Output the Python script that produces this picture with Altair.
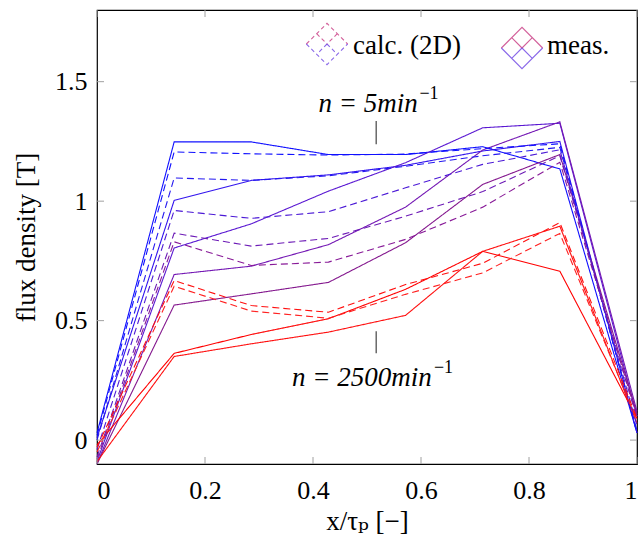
import altair as alt
import pandas as pd

# Positions across the pole pitch
x_pos = [0.0, 0.1429, 0.2857, 0.4286, 0.5714, 0.7143, 0.8571, 1.0]

# Measured flux density, one list per speed (5 ... 2500 min^-1)
meas_1 = [0.03, 1.248, 1.248, 1.195, 1.195, 1.228, 1.135, 0.03]
meas_2 = [0.01, 1.003, 1.087, 1.110, 1.150, 1.210, 1.250, 0.03]
meas_3 = [-0.09, 0.804, 0.905, 1.042, 1.161, 1.307, 1.326, 0.10]
meas_4 = [-0.10, 0.693, 0.728, 0.818, 0.975, 1.214, 1.332, 0.12]
meas_5 = [-0.10, 0.565, 0.612, 0.660, 0.826, 1.070, 1.195, 0.11]
meas_6 = [-0.02, 0.363, 0.442, 0.508, 0.631, 0.790, 0.707, 0.09]
meas_7 = [-0.09, 0.350, 0.403, 0.452, 0.522, 0.790, 0.895, 0.07]

# Calculated (2D) flux density, one list per speed
calc_1 = [0.02, 1.206, 1.198, 1.193, 1.197, 1.220, 1.240, 0.03]
calc_2 = [0.00, 1.097, 1.087, 1.106, 1.146, 1.190, 1.225, 0.04]
calc_3 = [-0.04, 0.961, 0.928, 0.956, 1.056, 1.154, 1.215, 0.06]
calc_4 = [-0.07, 0.866, 0.812, 0.844, 0.937, 1.040, 1.190, 0.09]
calc_5 = [-0.08, 0.830, 0.731, 0.745, 0.840, 0.975, 1.163, 0.10]
calc_6 = [-0.03, 0.668, 0.563, 0.535, 0.651, 0.740, 0.910, 0.09]
calc_7 = [-0.05, 0.644, 0.540, 0.510, 0.610, 0.700, 0.865, 0.08]

meas_colors = ["#1010ff", "#3214ee", "#5a18d2", "#7418b4", "#84188e", "#ff0000", "#ff1010"]
calc_colors = ["#1010ff", "#2418f0", "#4c1ad6", "#6c1ab6", "#881a98", "#ff1010", "#ff2020"]

x_ticks = [0, 0.2, 0.4, 0.6, 0.8, 1]
y_ticks = [0, 0.5, 1, 1.5]

series = [
    ("meas 1", "meas", meas_1), ("meas 2", "meas", meas_2), ("meas 3", "meas", meas_3),
    ("meas 4", "meas", meas_4), ("meas 5", "meas", meas_5), ("meas 6", "meas", meas_6),
    ("meas 7", "meas", meas_7),
    ("calc 1", "calc", calc_1), ("calc 2", "calc", calc_2), ("calc 3", "calc", calc_3),
    ("calc 4", "calc", calc_4), ("calc 5", "calc", calc_5), ("calc 6", "calc", calc_6),
    ("calc 7", "calc", calc_7),
]
names = [s[0] for s in series]
colors = meas_colors + calc_colors

rows = []
for name, kind, vals in series:
    for i, (xv, yv) in enumerate(zip(x_pos, vals)):
        rows.append({"series": name, "kind": kind, "x": xv, "y": yv, "idx": i})
df = pd.DataFrame(rows)

FONT = "Liberation Serif, Times New Roman, DejaVu Serif, serif"
W, H = 540, 454

x_scale = alt.Scale(domain=[0, 1], nice=False, zero=False)
y_scale = alt.Scale(domain=[-0.1, 1.8], nice=False, zero=False)

lines = alt.Chart(df).mark_line(strokeWidth=1.1).encode(
    x=alt.X("x:Q", scale=x_scale,
            axis=alt.Axis(values=x_ticks, format="~g", title="x/τₚ [−]",
                          labelPadding=13, titlePadding=5)),
    y=alt.Y("y:Q", scale=y_scale,
            axis=alt.Axis(values=y_ticks, format="~g", title="flux density [T]",
                          labelPadding=10, titlePadding=14)),
    color=alt.Color("series:N", scale=alt.Scale(domain=names, range=colors), legend=None),
    strokeDash=alt.StrokeDash("kind:N",
                              scale=alt.Scale(domain=["calc", "meas"], range=[[7, 4], [1, 0]]),
                              legend=None),
    detail="series:N",
    order="idx:Q",
)

# Inward tick marks on all four sides
xt = pd.DataFrame({"t": x_ticks})
yt = pd.DataFrame({"t": y_ticks})
tick_col = "#a0a0a0"
ticks_bottom = alt.Chart(xt).mark_rule(color=tick_col).encode(
    x=alt.X("t:Q", scale=x_scale), y=alt.value(H), y2=alt.value(H - 7))
ticks_top = alt.Chart(xt).mark_rule(color=tick_col).encode(
    x=alt.X("t:Q", scale=x_scale), y=alt.value(0), y2=alt.value(7))
ticks_left = alt.Chart(yt).mark_rule(color=tick_col).encode(
    y=alt.Y("t:Q", scale=y_scale), x=alt.value(0), x2=alt.value(7))
ticks_right = alt.Chart(yt).mark_rule(color=tick_col).encode(
    y=alt.Y("t:Q", scale=y_scale), x=alt.value(W), x2=alt.value(W - 7))

# Speed annotations: marker line, speed text and its "−1" exponent
ann_x = 0.517
ann_rules = pd.DataFrame({"x": [ann_x, ann_x], "y1": [1.238, 0.364], "y2": [1.335, 0.456]})
ann_text = pd.DataFrame({"x_end": [0.594, 0.620], "x_sup": [0.597, 0.624],
                         "y": [1.405, 0.262],
                         "label": ["n = 5min", "n = 2500min"], "sup": ["−1", "−1"]})
rules = alt.Chart(ann_rules).mark_rule(color="#444444", strokeWidth=1.2).encode(
    x=alt.X("x:Q", scale=x_scale), y=alt.Y("y1:Q", scale=y_scale), y2="y2:Q")
texts = alt.Chart(ann_text).mark_text(font=FONT, fontSize=27, fontStyle="italic",
                                      color="black", baseline="middle", align="right").encode(
    x=alt.X("x_end:Q", scale=x_scale), y=alt.Y("y:Q", scale=y_scale), text="label:N")
sups = alt.Chart(ann_text).mark_text(font=FONT, fontSize=18, color="black",
                                     baseline="middle", align="left", dy=-10).encode(
    x=alt.X("x_sup:Q", scale=x_scale), y=alt.Y("y:Q", scale=y_scale), text="sup:N")

# Legend drawn inside the frame
one = pd.DataFrame({"a": [0]})
upper_path = "M-1,0L0,-1L1,0M-0.5,-0.5L0,0M0.5,-0.5L0,0"
lower_path = "M-1,0L0,1L1,0M0,0L0.5,0.5M0,0L-0.5,0.5"


def icon(cx, cy, path, color, dash):
    kw = dict(shape=path, filled=False, size=1700, strokeWidth=1.1, color=color)
    if dash:
        kw["strokeDash"] = [4, 3]
    return alt.Chart(one).mark_point(**kw).encode(x=alt.value(cx), y=alt.value(cy))


legend_icons = [
    icon(230, 34, upper_path, "#c01c70", True),
    icon(230, 34, lower_path, "#5a2ae0", True),
    icon(425, 38, upper_path, "#c01c70", False),
    icon(425, 38, lower_path, "#5a2ae0", False),
]
legend_text = pd.DataFrame({"px": [256, 450], "label": ["calc. (2D)", "meas."]})
legend_labels = alt.Chart(legend_text).mark_text(
    font=FONT, fontSize=27, align="left", baseline="middle", color="black").encode(
    x=alt.X("px:Q", scale=None), y=alt.value(36), text="label:N")

chart = alt.layer(
    lines, ticks_bottom, ticks_top, ticks_left, ticks_right, rules, texts, sups,
    *legend_icons, legend_labels,
).properties(
    width=W, height=H,
    autosize=alt.AutoSizeParams(type="none"),
    padding={"left": 97, "top": 10, "right": 2, "bottom": 73},
).configure_view(
    stroke="black", strokeWidth=1.2,
).configure_axis(
    domain=False, ticks=False, grid=False,
    labelFont=FONT, labelFontSize=26, labelColor="black",
    titleFont=FONT, titleFontSize=27, titleFontWeight="normal", titleColor="black",
).configure_text(font=FONT)

chart.save("out.html", embed_options={"renderer": "svg", "actions": False})
